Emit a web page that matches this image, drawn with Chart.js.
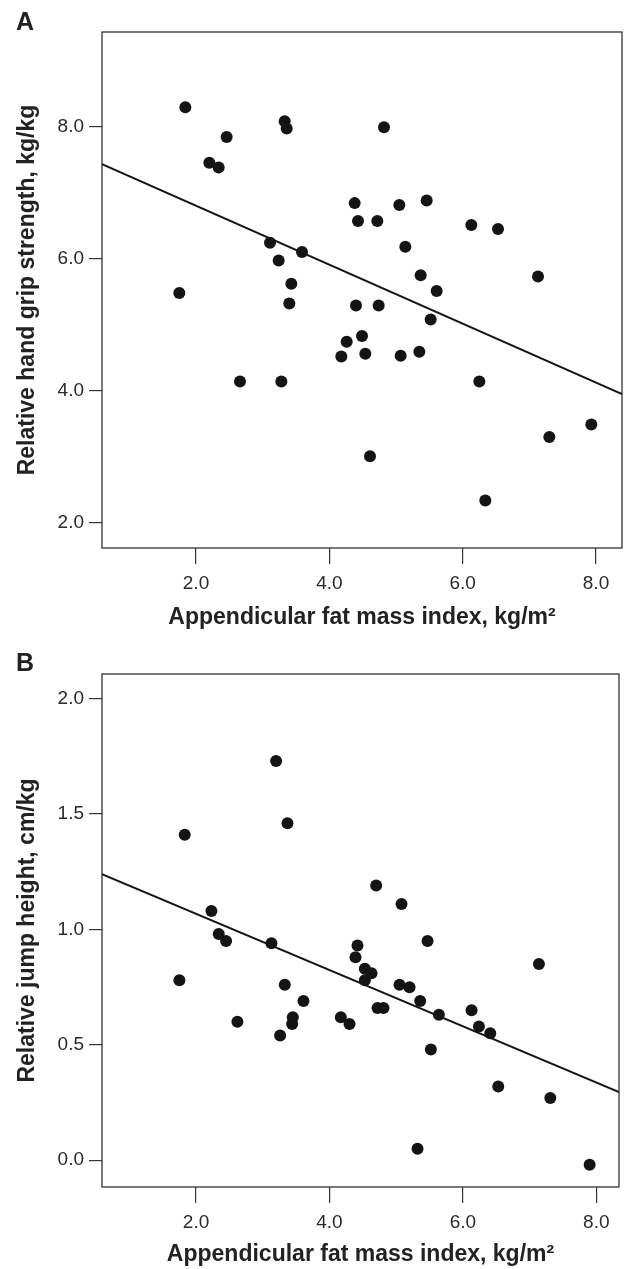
<!DOCTYPE html>
<html>
<head>
<meta charset="utf-8">
<script src="https://cdn.jsdelivr.net/npm/chart.js@4.4.0/dist/chart.umd.min.js"></script>
<style>
  body { margin: 0; background: #fff; overflow: hidden; }
  .panel { position: absolute; left: 0; }
  .tag { position: absolute; left: 16px; font: bold 25px "Liberation Sans", Arial, sans-serif; color: #222; }
</style>
</head>
<body>
<div class="panel" style="top:0;width:628px;height:640px;"><canvas id="chartA"></canvas></div>
<div class="panel" style="top:640px;width:625px;height:629px;"><canvas id="chartB"></canvas></div>
<div class="tag" style="top:7px;">A</div>
<div class="tag" style="top:648px;">B</div>
<script>
// panel A: appendicular fat mass index vs relative hand grip strength
const afmiA = [1.84, 3.33, 3.36, 4.82, 2.46, 2.20, 2.34, 4.38, 5.05, 5.46,
               4.43, 4.72, 6.13, 6.53, 3.11, 5.14, 3.59, 3.24, 3.43, 5.37,
               5.61, 7.13, 1.75, 3.40, 4.40, 4.74, 5.52, 4.49, 4.26, 4.18,
               4.54, 5.07, 5.35, 2.66, 3.28, 6.25, 7.93, 7.30, 4.61, 6.34];
const gripA = [8.29, 8.08, 7.97, 7.99, 7.84, 7.45, 7.38, 6.84, 6.81, 6.88,
               6.57, 6.57, 6.51, 6.45, 6.24, 6.18, 6.10, 5.97, 5.62, 5.75,
               5.51, 5.73, 5.48, 5.32, 5.29, 5.29, 5.08, 4.83, 4.74, 4.52,
               4.56, 4.53, 4.59, 4.14, 4.14, 4.14, 3.49, 3.30, 3.01, 2.34];
const lineAx = [0.59, 8.39];
const lineAy = [7.43, 3.95];

// panel B: appendicular fat mass index vs relative jump height
const afmiB = [3.20, 3.37, 1.83, 4.70, 5.08, 2.23, 2.34, 2.45, 3.13, 4.42,
               5.47, 4.39, 4.53, 4.63, 4.53, 7.14, 1.75, 3.33, 5.05, 5.20,
               5.36, 3.61, 4.72, 4.81, 6.13, 5.64, 4.17, 3.45, 3.44, 4.30,
               2.62, 6.24, 6.41, 3.26, 5.52, 6.53, 7.31, 5.32, 7.90];
const jumpB = [1.73, 1.46, 1.41, 1.19, 1.11, 1.08, 0.98, 0.95, 0.94, 0.93,
               0.95, 0.88, 0.83, 0.81, 0.78, 0.85, 0.78, 0.76, 0.76, 0.75,
               0.69, 0.69, 0.66, 0.66, 0.65, 0.63, 0.62, 0.62, 0.59, 0.59,
               0.60, 0.58, 0.55, 0.54, 0.48, 0.32, 0.27, 0.05, -0.02];
const lineBx = [0.59, 8.34];
const lineBy = [1.24, 0.295];

const xTicks = [2, 4, 6, 8];
const yTicksA = [2, 4, 6, 8];
const yTicksB = [0, 0.5, 1, 1.5, 2];

const xTitle = 'Appendicular fat mass index, kg/m\u00b2';

// full frame round the plot area
const boxPlugin = {
    id: 'box',
    beforeDatasetsDraw(chart) {
        const { ctx, chartArea: a } = chart;
        ctx.save();
        ctx.strokeStyle = '#333';
        ctx.lineWidth = 1.3;
        ctx.strokeRect(a.left, a.top, a.right - a.left, a.bottom - a.top);
        ctx.restore();
    }
};

const tickFont = { family: '"Liberation Sans", Arial, sans-serif', size: 19 };
const titleFont = { family: '"Liberation Sans", Arial, sans-serif', size: 23, weight: 'bold' };

function makeChart(id, xs, ys, lx, ly, o) {
    const pts = xs.map((x, i) => ({ x: x, y: ys[i] }));
    const line = lx.map((x, i) => ({ x: x, y: ly[i] }));
    return new Chart(document.getElementById(id), {
        type: 'scatter',
        data: {
            datasets: [
                {
                    data: pts,
                    backgroundColor: '#141414',
                    borderWidth: 0,
                    pointRadius: 6,
                    pointHoverRadius: 6
                },
                {
                    type: 'line',
                    data: line,
                    borderColor: '#151515',
                    borderWidth: 2,
                    pointRadius: 0,
                    fill: false
                }
            ]
        },
        options: {
            responsive: true,
            maintainAspectRatio: false,
            animation: false,
            events: [],
            layout: { padding: { top: o.top, right: o.right, left: 0, bottom: 0 } },
            plugins: { legend: { display: false }, tooltip: { enabled: false } },
            scales: {
                x: {
                    type: 'linear',
                    min: o.xMin,
                    max: o.xMax,
                    afterBuildTicks: s => { s.ticks = xTicks.map(v => ({ value: v })); },
                    afterFit: s => { s.height = o.xHeight; },
                    border: { display: false },
                    grid: { drawOnChartArea: false, drawTicks: true, tickLength: 16, color: '#333', lineWidth: 1.2 },
                    ticks: { font: tickFont, color: '#2a2a2a', padding: 8, callback: v => v.toFixed(1) },
                    title: { display: true, text: xTitle, font: titleFont, color: '#222', padding: { top: 0, bottom: o.titlePad } }
                },
                y: {
                    type: 'linear',
                    min: o.yMin,
                    max: o.yMax,
                    afterBuildTicks: s => { s.ticks = o.yTicks.map(v => ({ value: v })); },
                    afterFit: s => { s.width = 102; },
                    border: { display: false },
                    grid: { drawOnChartArea: false, drawTicks: true, tickLength: 13, color: '#333', lineWidth: 1.2 },
                    ticks: { font: tickFont, color: '#2a2a2a', padding: 5, callback: v => v.toFixed(1) },
                    title: { display: true, text: o.yTitle, font: titleFont, color: '#222', padding: { top: 14, bottom: 0 } }
                }
            }
        },
        plugins: [boxPlugin]
    });
}

makeChart('chartA', afmiA, gripA, lineAx, lineAy, {
    top: 32, right: 2, xMin: 0.59, xMax: 8.39, yMin: 1.62, yMax: 9.43,
    xHeight: 92, titlePad: 9, yTicks: yTicksA,
    yTitle: 'Relative hand grip strength, kg/kg'
});
makeChart('chartB', afmiB, jumpB, lineBx, lineBy, {
    top: 34, right: 0, xMin: 0.59, xMax: 8.34, yMin: -0.116, yMax: 2.107,
    xHeight: 82, titlePad: 1, yTicks: yTicksB,
    yTitle: 'Relative jump height, cm/kg'
});
</script>
</body>
</html>
